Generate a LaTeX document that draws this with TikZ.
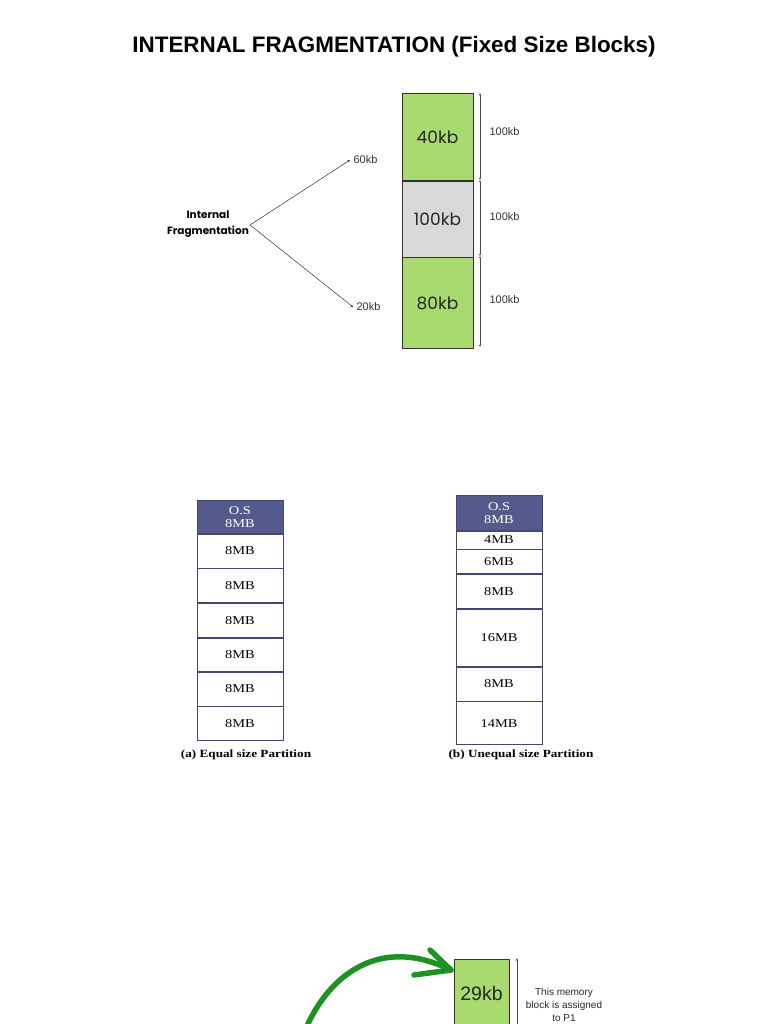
\documentclass[tikz,border=0pt]{standalone}
\usepackage{fontspec}
\setmainfont{Liberation Serif}
\setsansfont{Liberation Sans}
\newfontfamily\popfont{Poppins}
\newfontfamily\wideserif[FakeStretch=1.2]{Liberation Serif}
\usetikzlibrary{arrows.meta}
\definecolor{blkgreen}{RGB}{168,218,112}
\definecolor{blkgray}{RGB}{217,217,217}
\definecolor{osblue}{RGB}{84,90,140}
\definecolor{arrgreen}{RGB}{30,145,35}
\begin{document}
\begin{tikzpicture}[x=1pt,y=-1pt,
  memblk/.style={draw=black!80,line width=0.6pt,minimum width=71pt,inner sep=0pt,font=\popfont\fontsize{17}{19}\selectfont,text=black!85},
  dimarr/.style={{Stealth[length=2.5pt,width=2pt]}-{Stealth[length=2.5pt,width=2pt]},line width=0.5pt,black!70},
  dimlbl/.style={font=\sffamily\fontsize{11}{12}\selectfont,text=black!80},
  part/.style={draw=osblue!80!black,line width=0.7pt,minimum width=86pt,inner sep=0pt,font=\wideserif\fontsize{12}{13}\selectfont},
  oshead/.style={part,fill=osblue,text=white,align=center,font=\wideserif\fontsize{12}{13}\selectfont},
  caplbl/.style={font=\wideserif\bfseries\fontsize{11}{13}\selectfont}
]
\useasboundingbox (0,0) rectangle (768,1024);
% title
\node[font=\sffamily\bfseries\fontsize{22.4}{26}\selectfont] (title) at (394,47) {INTERNAL FRAGMENTATION (Fixed Size Blocks)};
% top blocks
\node[memblk,fill=blkgreen,minimum height=87pt,anchor=north] (b40) at (437.5,93) {40kb};
\node[memblk,fill=blkgray,minimum height=76pt,anchor=north] (b100) at (b40.south) {100kb};
\node[memblk,fill=blkgreen,minimum height=91pt,anchor=north] (b80) at (b100.south) {80kb};
\coordinate (d0) at (480,93);
\coordinate (d1) at (480,180);
\coordinate (d2) at (480,256);
\coordinate (d3) at (480,347);
\draw[dimarr] (d0) -- (d1);
\draw[dimarr] (d1) -- (d2);
\draw[dimarr] (d2) -- (d3);
\node[dimlbl,anchor=west] (l1) at (486,132) {100kb};
\node[dimlbl,anchor=west] (l2) at (486,217) {100kb};
\node[dimlbl,anchor=west] (l3) at (486,300) {100kb};
% internal fragmentation
\node[font=\popfont\bfseries\fontsize{10.5}{16}\selectfont,align=center] (ifrag) at (208,224) {Internal\\Fragmentation};
\coordinate (vtx) at (250,225);
\node[dimlbl,anchor=west] (f60) at (350,160) {60kb};
\node[dimlbl,anchor=west] (f20) at (353,307) {20kb};
\draw[line width=0.5pt,black!80,-{Stealth[length=2.5pt,width=2.5pt]}] (vtx) -- (f60.west);
\draw[line width=0.5pt,black!80,-{Stealth[length=2.5pt,width=2.5pt]}] (vtx) -- (f20.west);
% (a) equal partition
\node[oshead,minimum height=33pt,anchor=north] (aos) at (240,500) {O.S\\8MB};
\node[part,minimum height=34pt,anchor=north] (a1) at (aos.south) {8MB};
\node[part,minimum height=34pt,anchor=north] (a2) at (a1.south) {8MB};
\node[part,minimum height=34pt,anchor=north] (a3) at (a2.south) {8MB};
\node[part,minimum height=33pt,anchor=north] (a4) at (a3.south) {8MB};
\node[part,minimum height=34pt,anchor=north] (a5) at (a4.south) {8MB};
\node[part,minimum height=34pt,anchor=north] (a6) at (a5.south) {8MB};
\node[caplbl] (capa) at (246,755) {(a) Equal size Partition};
% (b) unequal partition
\node[oshead,minimum height=35pt,anchor=north] (bos) at (499,495) {O.S\\8MB};
\node[part,minimum height=18pt,anchor=north] (c1) at (bos.south) {4MB};
\node[part,minimum height=24pt,anchor=north] (c2) at (c1.south) {6MB};
\node[part,minimum height=34pt,anchor=north] (c3) at (c2.south) {8MB};
\node[part,minimum height=57pt,anchor=north] (c4) at (c3.south) {16MB};
\node[part,minimum height=34pt,anchor=north] (c5) at (c4.south) {8MB};
\node[part,minimum height=43pt,anchor=north] (c6) at (c5.south) {14MB};
\node[caplbl] (capb) at (521,755) {(b) Unequal size Partition};
% bottom block
\begin{scope}
\clip (0,0) rectangle (768,1024);
\node[memblk,fill=blkgreen,minimum width=55pt,minimum height=90pt,anchor=north] (b29) at (481.5,959) {};
\node[font=\sffamily\fontsize{19.5}{21}\selectfont,text=black!85] (b29t) at (481.5,994) {29kb};
\coordinate (u1) at (517,958);
\coordinate (u0) at (517,1030);
\draw[line width=0.5pt,black!70,-{Stealth[length=3pt,width=2.5pt]}] (u0) -- (u1);
\node[font=\sffamily\fontsize{10}{13}\selectfont,align=center,text=black!85] (note) at (564,1005) {This memory\\block is assigned\\to P1};
\coordinate (gs) at (307,1026);
\coordinate (gt) at (451,970);
\draw[arrgreen,line width=5.5pt,line cap=round] (gs) .. controls (330,975) and (380,935) .. (gt);
\draw[arrgreen,line width=5.5pt,line cap=round,line join=round] (430,950) -- (gt) -- (414,975);
\end{scope}
\end{tikzpicture}
\end{document}
